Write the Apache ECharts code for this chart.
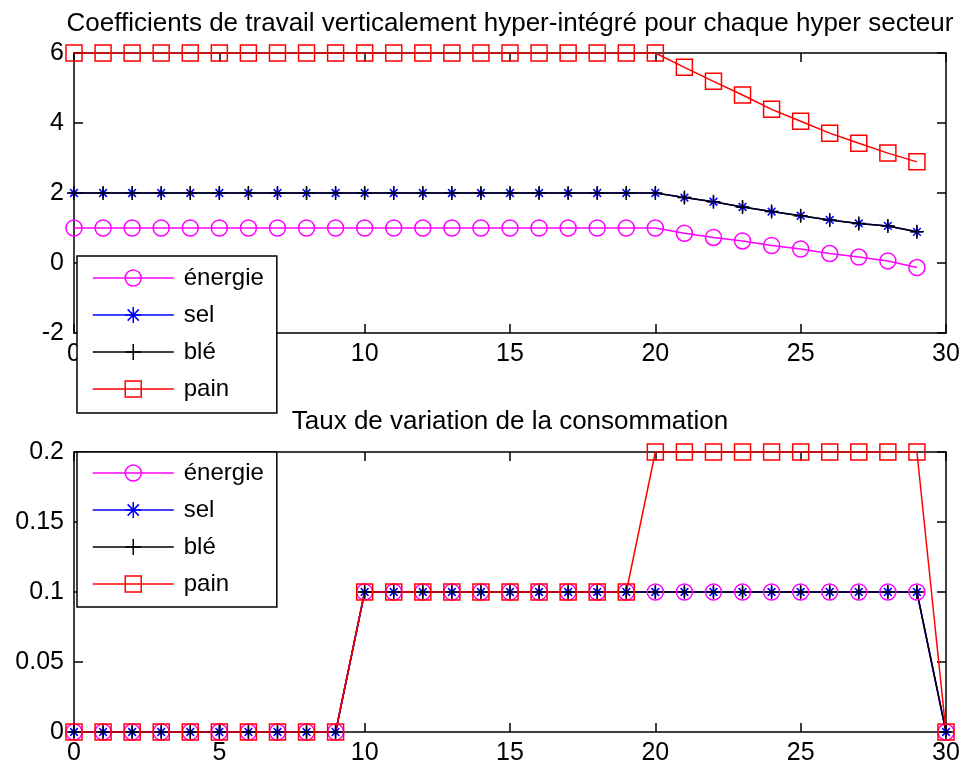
<!DOCTYPE html>
<html>
<head>
<meta charset="utf-8">
<script src="https://cdn.jsdelivr.net/npm/echarts@6/dist/echarts.min.js"></script>
<style>
html,body{margin:0;padding:0;background:#fff;}
#c{width:966px;height:769px;}
</style>
</head>
<body>
<div id="c"></div>
<script>
// ---- data ----
var titleTop = 'Coefficients de travail verticalement hyper-intégré pour chaque hyper secteur';
var titleBottom = 'Taux de variation de la consommation';
var seriesNames = ['énergie', 'sel', 'blé', 'pain'];

var topX = [0,1,2,3,4,5,6,7,8,9,10,11,12,13,14,15,16,17,18,19,20,21,22,23,24,25,26,27,28,29];
var topEnergie = [1,1,1,1,1,1,1,1,1,1,1,1,1,1,1,1,1,1,1,1,1,0.85,0.73,0.63,0.50,0.40,0.27,0.17,0.06,-0.13];
var topSel = [2,2,2,2,2,2,2,2,2,2,2,2,2,2,2,2,2,2,2,2,2,1.87,1.75,1.60,1.47,1.35,1.23,1.13,1.06,0.89];
var topBle = [2,2,2,2,2,2,2,2,2,2,2,2,2,2,2,2,2,2,2,2,2,1.87,1.75,1.60,1.47,1.35,1.23,1.13,1.06,0.89];
var topPain = [6,6,6,6,6,6,6,6,6,6,6,6,6,6,6,6,6,6,6,6,6,5.59,5.19,4.80,4.39,4.05,3.71,3.42,3.14,2.89];

var botX = [0,1,2,3,4,5,6,7,8,9,10,11,12,13,14,15,16,17,18,19,20,21,22,23,24,25,26,27,28,29,30];
var botEnergie = [0,0,0,0,0,0,0,0,0,0,0.1,0.1,0.1,0.1,0.1,0.1,0.1,0.1,0.1,0.1,0.1,0.1,0.1,0.1,0.1,0.1,0.1,0.1,0.1,0.1,0];
var botSel = [0,0,0,0,0,0,0,0,0,0,0.1,0.1,0.1,0.1,0.1,0.1,0.1,0.1,0.1,0.1,0.1,0.1,0.1,0.1,0.1,0.1,0.1,0.1,0.1,0.1,0];
var botBle = [0,0,0,0,0,0,0,0,0,0,0.1,0.1,0.1,0.1,0.1,0.1,0.1,0.1,0.1,0.1,0.1,0.1,0.1,0.1,0.1,0.1,0.1,0.1,0.1,0.1,0];
var botPain = [0,0,0,0,0,0,0,0,0,0,0.1,0.1,0.1,0.1,0.1,0.1,0.1,0.1,0.1,0.1,0.2,0.2,0.2,0.2,0.2,0.2,0.2,0.2,0.2,0.2,0];

// ---- chart ----
var FONT = '"Liberation Sans", Arial, sans-serif';
var chart = echarts.init(document.getElementById('c'), null, {renderer: 'canvas'});

function pairs(xs, ys) { return xs.map(function (x, i) { return [x, ys[i]]; }); }

var styles = [
  {color: '#ff00ff', symbol: 'circle', size: 16},
  {color: '#0000ff', symbol: 'path://M10 0L10 20M0 10L20 10M3 3L17 17M3 17L17 3', size: 11},
  {color: '#000000', symbol: 'path://M10 0L10 20M0 10L20 10', size: 14},
  {color: '#ff0000', symbol: 'rect', size: 16}
];

function mkSeries(name, idx, data, axisIdx) {
  var s = styles[idx];
  return {
    type: 'line', name: name, xAxisIndex: axisIdx, yAxisIndex: axisIdx,
    data: data, symbol: s.symbol, symbolSize: s.size, showAllSymbol: true,
    lineStyle: {color: s.color, width: 1.5},
    itemStyle: {color: 'rgba(255,255,255,0)', borderColor: s.color, borderWidth: 1.5},
    emphasis: {disabled: true}, silent: true, animation: false
  };
}

function axisCommon(extra) {
  var a = {
    axisLine: {show: true, onZero: false, lineStyle: {color: '#000', width: 1.5}},
    axisTick: {show: true, inside: true, length: 9, lineStyle: {color: '#000', width: 1.5}},
    splitLine: {show: false},
    axisLabel: {show: true, color: '#000', fontFamily: FONT, fontSize: 25},
    nameTextStyle: {color: '#000', fontFamily: FONT, fontSize: 26}
  };
  for (var k in extra) a[k] = extra[k];
  return a;
}

function legend(top, padding) {
  return {
    orient: 'vertical', left: 77, top: top,
    data: seriesNames,
    backgroundColor: '#fff', borderColor: '#000', borderWidth: 1.5, borderRadius: 0,
    padding: padding, itemWidth: 81, itemHeight: 20, itemGap: 13,
    itemStyle: {borderWidth: 1.5},
    lineStyle: {width: 1.5},
    textStyle: {color: '#000', fontFamily: FONT, fontSize: 24, lineHeight: 24, padding: [0, 0, 0, 5]},
    selectedMode: false, z: 10
  };
}

var option = {
  animation: false,
  backgroundColor: '#fff',
  grid: [
    {left: 74, right: 20, top: 53, height: 280},
    {left: 74, right: 20, top: 452, height: 280}
  ],
  xAxis: [
    axisCommon({type: 'value', gridIndex: 0, min: 0, max: 30, interval: 5, position: 'bottom',
      axisLabel: {color: '#000', fontFamily: FONT, fontSize: 25, margin: 9}}),
    axisCommon({type: 'value', gridIndex: 0, min: 0, max: 30, interval: 5, position: 'top',
      axisLabel: {show: false}, name: titleTop, nameLocation: 'middle', nameGap: 16}),
    axisCommon({type: 'value', gridIndex: 1, min: 0, max: 30, interval: 5, position: 'bottom',
      axisLabel: {color: '#000', fontFamily: FONT, fontSize: 25, margin: 9}}),
    axisCommon({type: 'value', gridIndex: 1, min: 0, max: 30, interval: 5, position: 'top',
      axisLabel: {show: false}, name: titleBottom, nameLocation: 'middle', nameGap: 17})
  ],
  yAxis: [
    axisCommon({type: 'value', gridIndex: 0, min: -2, max: 6, interval: 2, position: 'left',
      axisLabel: {color: '#000', fontFamily: FONT, fontSize: 25, margin: 10}}),
    axisCommon({type: 'value', gridIndex: 0, min: -2, max: 6, interval: 2, position: 'right',
      axisLabel: {show: false}}),
    axisCommon({type: 'value', gridIndex: 1, min: 0, max: 0.2, interval: 0.05, position: 'left',
      axisLabel: {color: '#000', fontFamily: FONT, fontSize: 25, margin: 10}}),
    axisCommon({type: 'value', gridIndex: 1, min: 0, max: 0.2, interval: 0.05, position: 'right',
      axisLabel: {show: false}})
  ],
  legend: [
    legend(256, [10, 13, 12, 15]),
    legend(452, [9, 13, 11, 15])
  ],
  series: [
    mkSeries(seriesNames[0], 0, pairs(topX, topEnergie), 0),
    mkSeries(seriesNames[1], 1, pairs(topX, topSel), 0),
    mkSeries(seriesNames[2], 2, pairs(topX, topBle), 0),
    mkSeries(seriesNames[3], 3, pairs(topX, topPain), 0),
    mkSeries(seriesNames[0], 0, pairs(botX, botEnergie), 2),
    mkSeries(seriesNames[1], 1, pairs(botX, botSel), 2),
    mkSeries(seriesNames[2], 2, pairs(botX, botBle), 2),
    mkSeries(seriesNames[3], 3, pairs(botX, botPain), 2)
  ]
};
chart.setOption(option);
</script>
</body>
</html>
